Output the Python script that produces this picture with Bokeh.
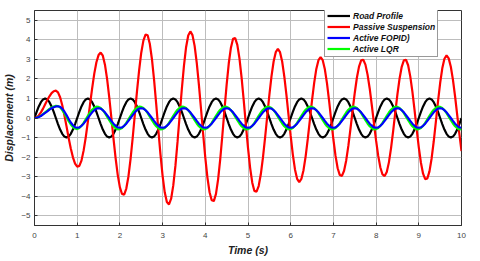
from bokeh.plotting import figure
from bokeh.models import ColumnDataSource, Legend, LegendItem, FixedTicker, Range1d
from bokeh.embed import file_html
from bokeh.resources import INLINE
import numpy as np

# Time axis (s), sampled every 0.05 s
time_s = np.linspace(0, 10, 201)

road_profile = [
    0.00, 0.31, 0.59, 0.81, 0.95, 1.00, 0.95, 0.81, 0.59, 0.31, 0.00, -0.31, -0.59, -0.81, -0.95, -1.00, -0.95, -0.81, -0.59, -0.31,
    0.00, 0.31, 0.59, 0.81, 0.95, 1.00, 0.95, 0.81, 0.59, 0.31, 0.00, -0.31, -0.59, -0.81, -0.95, -1.00, -0.95, -0.81, -0.59, -0.31,
    0.00, 0.31, 0.59, 0.81, 0.95, 1.00, 0.95, 0.81, 0.59, 0.31, 0.00, -0.31, -0.59, -0.81, -0.95, -1.00, -0.95, -0.81, -0.59, -0.31,
    0.00, 0.31, 0.59, 0.81, 0.95, 1.00, 0.95, 0.81, 0.59, 0.31, 0.00, -0.31, -0.59, -0.81, -0.95, -1.00, -0.95, -0.81, -0.59, -0.31,
    0.00, 0.31, 0.59, 0.81, 0.95, 1.00, 0.95, 0.81, 0.59, 0.31, 0.00, -0.31, -0.59, -0.81, -0.95, -1.00, -0.95, -0.81, -0.59, -0.31,
    0.00, 0.31, 0.59, 0.81, 0.95, 1.00, 0.95, 0.81, 0.59, 0.31, 0.00, -0.31, -0.59, -0.81, -0.95, -1.00, -0.95, -0.81, -0.59, -0.31,
    0.00, 0.31, 0.59, 0.81, 0.95, 1.00, 0.95, 0.81, 0.59, 0.31, 0.00, -0.31, -0.59, -0.81, -0.95, -1.00, -0.95, -0.81, -0.59, -0.31,
    0.00, 0.31, 0.59, 0.81, 0.95, 1.00, 0.95, 0.81, 0.59, 0.31, 0.00, -0.31, -0.59, -0.81, -0.95, -1.00, -0.95, -0.81, -0.59, -0.31,
    0.00, 0.31, 0.59, 0.81, 0.95, 1.00, 0.95, 0.81, 0.59, 0.31, 0.00, -0.31, -0.59, -0.81, -0.95, -1.00, -0.95, -0.81, -0.59, -0.31,
    0.00, 0.31, 0.59, 0.81, 0.95, 1.00, 0.95, 0.81, 0.59, 0.31, 0.00, -0.31, -0.59, -0.81, -0.95, -1.00, -0.95, -0.81, -0.59, -0.31,
    0.00,
]

passive_suspension = [
    0.00, 0.03, 0.13, 0.29, 0.48, 0.70, 0.92, 1.11, 1.27, 1.37, 1.40, 1.31, 1.06, 0.65, 0.14, -0.43, -1.02, -1.56, -2.01, -2.33,
    -2.49, -2.45, -2.18, -1.67, -0.99, -0.18, 0.69, 1.52, 2.27, 2.85, 3.22, 3.35, 3.19, 2.73, 2.00, 1.07, 0.02, -1.05, -2.06, -2.92,
    -3.55, -3.89, -3.92, -3.61, -2.99, -2.09, -1.01, 0.18, 1.36, 2.44, 3.34, 3.96, 4.27, 4.23, 3.80, 3.02, 1.96, 0.72, -0.59, -1.86,
    -2.96, -3.80, -4.30, -4.42, -4.13, -3.45, -2.45, -1.21, 0.14, 1.47, 2.67, 3.62, 4.22, 4.43, 4.24, 3.69, 2.82, 1.71, 0.46, -0.82,
    -2.03, -3.05, -3.80, -4.21, -4.25, -3.88, -3.14, -2.10, -0.87, 0.45, 1.71, 2.80, 3.60, 4.05, 4.09, 3.74, 3.05, 2.07, 0.90, -0.34,
    -1.53, -2.55, -3.31, -3.73, -3.77, -3.48, -2.88, -2.03, -1.01, 0.09, 1.17, 2.13, 2.89, 3.37, 3.54, 3.37, 2.89, 2.13, 1.18, 0.13,
    -0.92, -1.87, -2.63, -3.11, -3.28, -3.12, -2.67, -1.96, -1.07, -0.08, 0.91, 1.80, 2.51, 2.96, 3.12, 2.96, 2.49, 1.77, 0.86, -0.13,
    -1.10, -1.94, -2.57, -2.92, -2.96, -2.70, -2.17, -1.43, -0.55, 0.39, 1.28, 2.06, 2.63, 2.95, 2.98, 2.73, 2.22, 1.51, 0.65, -0.27,
    -1.16, -1.94, -2.53, -2.89, -2.97, -2.76, -2.27, -1.54, -0.66, 0.30, 1.22, 2.02, 2.62, 2.95, 2.98, 2.70, 2.13, 1.35, 0.42, -0.57,
    -1.50, -2.29, -2.85, -3.13, -3.09, -2.73, -2.07, -1.19, -0.18, 0.85, 1.79, 2.54, 3.03, 3.20, 3.05, 2.62, 1.95, 1.10, 0.15, -0.81,
    -1.69,
]

active_fopid = [
    0.00, 0.01, 0.05, 0.10, 0.18, 0.26, 0.34, 0.43, 0.50, 0.55, 0.59, 0.60, 0.57, 0.47, 0.33, 0.15, -0.05, -0.23, -0.37, -0.47,
    -0.50, -0.48, -0.40, -0.29, -0.15, 0.00, 0.15, 0.29, 0.40, 0.48, 0.50, 0.48, 0.40, 0.29, 0.15, 0.00, -0.15, -0.29, -0.40, -0.48,
    -0.50, -0.48, -0.40, -0.29, -0.15, 0.00, 0.15, 0.29, 0.40, 0.48, 0.50, 0.48, 0.40, 0.29, 0.15, 0.00, -0.15, -0.29, -0.40, -0.48,
    -0.50, -0.48, -0.40, -0.29, -0.15, 0.00, 0.15, 0.29, 0.40, 0.48, 0.50, 0.48, 0.40, 0.29, 0.15, 0.00, -0.15, -0.29, -0.40, -0.48,
    -0.50, -0.48, -0.40, -0.29, -0.15, 0.00, 0.15, 0.29, 0.40, 0.48, 0.50, 0.48, 0.40, 0.29, 0.15, 0.00, -0.15, -0.29, -0.40, -0.48,
    -0.50, -0.48, -0.40, -0.29, -0.15, 0.00, 0.15, 0.29, 0.40, 0.48, 0.50, 0.48, 0.40, 0.29, 0.15, 0.00, -0.15, -0.29, -0.40, -0.48,
    -0.50, -0.48, -0.40, -0.29, -0.15, 0.00, 0.15, 0.29, 0.40, 0.48, 0.50, 0.48, 0.40, 0.29, 0.15, 0.00, -0.15, -0.29, -0.40, -0.48,
    -0.50, -0.48, -0.40, -0.29, -0.15, 0.00, 0.15, 0.29, 0.40, 0.48, 0.50, 0.48, 0.40, 0.29, 0.15, 0.00, -0.15, -0.29, -0.40, -0.48,
    -0.50, -0.48, -0.40, -0.29, -0.15, 0.00, 0.15, 0.29, 0.40, 0.48, 0.50, 0.48, 0.40, 0.29, 0.15, 0.00, -0.15, -0.29, -0.40, -0.48,
    -0.50, -0.48, -0.40, -0.29, -0.15, 0.00, 0.15, 0.29, 0.40, 0.48, 0.50, 0.48, 0.40, 0.29, 0.15, 0.00, -0.15, -0.29, -0.40, -0.48,
    -0.50,
]

active_lqr = [
    0.00, 0.01, 0.06, 0.12, 0.20, 0.29, 0.38, 0.47, 0.54, 0.59, 0.62, 0.61, 0.54, 0.40, 0.23, 0.04, -0.16, -0.33, -0.47, -0.54,
    -0.57, -0.51, -0.40, -0.25, -0.07, 0.11, 0.28, 0.42, 0.52, 0.58, 0.57, 0.51, 0.40, 0.25, 0.07, -0.11, -0.28, -0.42, -0.52, -0.58,
    -0.57, -0.51, -0.40, -0.25, -0.07, 0.11, 0.28, 0.42, 0.52, 0.58, 0.57, 0.51, 0.40, 0.25, 0.07, -0.11, -0.28, -0.42, -0.52, -0.58,
    -0.57, -0.51, -0.40, -0.25, -0.07, 0.11, 0.28, 0.42, 0.52, 0.58, 0.57, 0.51, 0.40, 0.25, 0.07, -0.11, -0.28, -0.42, -0.52, -0.58,
    -0.57, -0.51, -0.40, -0.25, -0.07, 0.11, 0.28, 0.42, 0.52, 0.58, 0.57, 0.51, 0.40, 0.25, 0.07, -0.11, -0.28, -0.42, -0.52, -0.58,
    -0.57, -0.51, -0.40, -0.25, -0.07, 0.11, 0.28, 0.42, 0.52, 0.58, 0.57, 0.51, 0.40, 0.25, 0.07, -0.11, -0.28, -0.42, -0.52, -0.58,
    -0.57, -0.51, -0.40, -0.25, -0.07, 0.11, 0.28, 0.42, 0.52, 0.58, 0.57, 0.51, 0.40, 0.25, 0.07, -0.11, -0.28, -0.42, -0.52, -0.58,
    -0.57, -0.51, -0.40, -0.25, -0.07, 0.11, 0.28, 0.42, 0.52, 0.58, 0.57, 0.51, 0.40, 0.25, 0.07, -0.11, -0.28, -0.42, -0.52, -0.58,
    -0.57, -0.51, -0.40, -0.25, -0.07, 0.11, 0.28, 0.42, 0.52, 0.58, 0.57, 0.51, 0.40, 0.25, 0.07, -0.11, -0.28, -0.42, -0.52, -0.58,
    -0.57, -0.51, -0.40, -0.25, -0.07, 0.11, 0.28, 0.42, 0.52, 0.58, 0.57, 0.51, 0.40, 0.25, 0.07, -0.11, -0.28, -0.42, -0.52, -0.58,
    -0.57,
]

series_names = ["Road Profile", "Passive Suspension", "Active FOPID)", "Active LQR"]
series_cols = ["road", "passive", "fopid", "lqr"]
series_colors = ["#000000", "#ff0000", "#0000ff", "#00ff00"]
x_ticks = [0, 1, 2, 3, 4, 5, 6, 7, 8, 9, 10]
y_ticks = [-5, -4, -3, -2, -1, 0, 1, 2, 3, 4, 5]

source = ColumnDataSource(dict(
    t=time_s, road=road_profile, passive=passive_suspension,
    fopid=active_fopid, lqr=active_lqr,
))

FONT = "Liberation Sans"

p = figure(
    frame_width=427, frame_height=215,
    x_range=Range1d(0, 10), y_range=Range1d(-5.5, 5.5),
    output_backend="svg", toolbar_location=None,
    min_border_left=29, min_border_right=8, min_border_top=10, min_border_bottom=28,
    background_fill_color="white", border_fill_color="white",
)

# draw order: road, passive, LQR, FOPID (blue on top of green)
renderers = {}
for idx in [0, 1, 3, 2]:
    renderers[idx] = p.line("t", series_cols[idx], source=source,
                            line_color=series_colors[idx], line_width=2.2)

p.xaxis.ticker = FixedTicker(ticks=x_ticks)
p.yaxis.ticker = FixedTicker(ticks=y_ticks)
for ax in (p.xaxis[0], p.yaxis[0]):
    ax.major_tick_out = 0
    ax.major_tick_in = 3
    ax.minor_tick_out = 0
    ax.minor_tick_in = 0
    ax.axis_line_color = "#333333"
    ax.major_tick_line_color = "#333333"
    ax.major_label_text_font = FONT
    ax.major_label_text_font_size = "8px"
    ax.major_label_text_color = "#444444"
    ax.axis_label_text_font = FONT
    ax.axis_label_text_font_size = "10.5px"
    ax.axis_label_text_font_style = "bold italic"
    ax.axis_label_text_color = "#222222"

p.xaxis.axis_label = "Time (s)"
p.yaxis.axis_label = "Displacement (m)"
p.xaxis.major_label_standoff = 7
p.xaxis.axis_label_standoff = 3
p.yaxis.major_label_standoff = 4
p.yaxis.axis_label_standoff = 3

p.xgrid.grid_line_color = "#bdbdbd"
p.ygrid.grid_line_color = "#bdbdbd"
p.xgrid.grid_line_width = 1
p.ygrid.grid_line_width = 1
p.outline_line_color = "#333333"
p.outline_line_width = 1

items = [LegendItem(label=series_names[i], renderers=[renderers[i]]) for i in range(4)]
legend = Legend(items=items, location=(290, 168))
legend.label_text_font = FONT
legend.label_text_font_size = "8.5px"
legend.label_text_font_style = "bold italic"
legend.label_text_color = "#111111"
legend.glyph_width = 23
legend.glyph_height = 11
legend.label_height = 11
legend.label_standoff = 3
legend.spacing = 0
legend.padding = 2
legend.margin = 0
legend.border_line_color = "#333333"
legend.border_line_width = 1
legend.background_fill_color = "white"
legend.background_fill_alpha = 1
p.add_layout(legend, "center")

open("out.html", "w").write(file_html(p, INLINE))
